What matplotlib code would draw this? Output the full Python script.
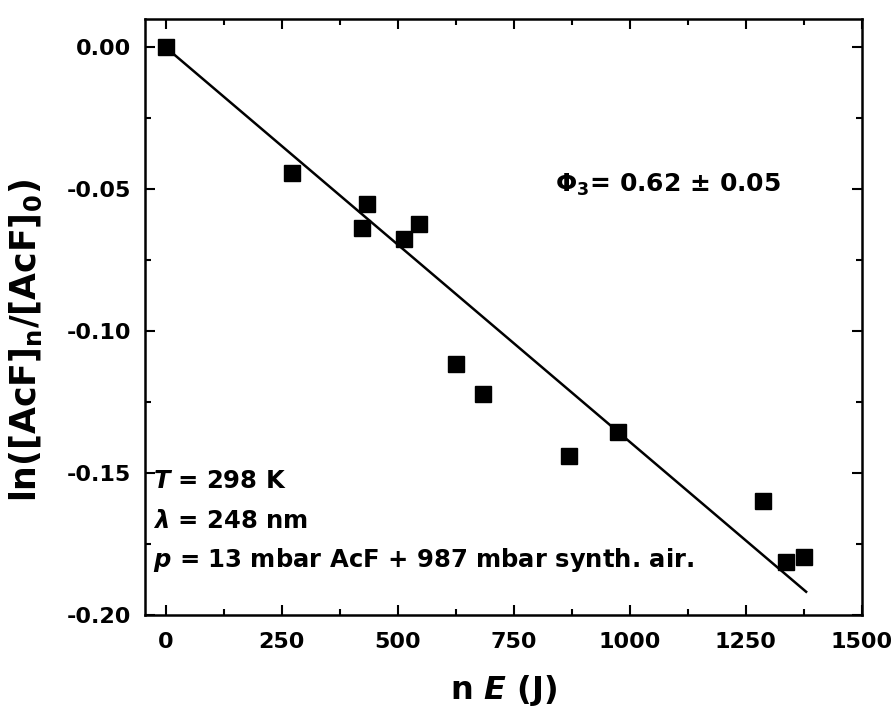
import matplotlib
matplotlib.use("Agg")
import matplotlib.pyplot as plt
from matplotlib.ticker import MultipleLocator, FormatStrFormatter

# Data
energy_J = [0, 272, 422, 433, 513, 545, 625, 683, 869, 974, 1287, 1336, 1375]
ln_ratio = [0.0, -0.0444, -0.0637, -0.0553, -0.0676, -0.0623, -0.1116, -0.1222,
            -0.1440, -0.1356, -0.1600, -0.1813, -0.1796]
fit_x = [0, 1380]
fit_y = [0.0, -0.1918]

plt.rcParams['font.family'] = ['DejaVu Sans']
plt.rcParams['font.weight'] = 'bold'
plt.rcParams['mathtext.fontset'] = 'custom'
plt.rcParams['mathtext.rm'] = 'DejaVu Sans:bold'
plt.rcParams['mathtext.bf'] = 'DejaVu Sans:bold'
plt.rcParams['mathtext.it'] = 'DejaVu Sans:italic:bold'
plt.rcParams['mathtext.sf'] = 'DejaVu Sans:bold'

fig = plt.figure(figsize=(8.94, 7.13), dpi=100)
ax = fig.add_axes([0.162, 0.1374, 0.802, 0.8356])

ax.plot(fit_x, fit_y, color='black', lw=1.8, zorder=2)
ax.plot(energy_J, ln_ratio, 's', color='black', markersize=11, zorder=3)

ax.set_xlim(-45, 1500)
ax.set_ylim(-0.2, 0.0099)
ax.xaxis.set_major_locator(MultipleLocator(250))
ax.xaxis.set_minor_locator(MultipleLocator(125))
ax.yaxis.set_major_locator(MultipleLocator(0.05))
ax.yaxis.set_minor_locator(MultipleLocator(0.025))
ax.yaxis.set_major_formatter(FormatStrFormatter('%.2f'))

ax.tick_params(which='both', direction='in', top=True, right=True, width=1.5)
ax.tick_params(which='major', length=7, labelsize=16)
ax.tick_params(axis='y', which='major', pad=10)
ax.tick_params(axis='x', which='major', pad=12)
ax.tick_params(which='minor', length=4)
for lab in ax.get_xticklabels() + ax.get_yticklabels():
    lab.set_fontweight('bold')
for s in ax.spines.values():
    s.set_linewidth(1.8)

ax.set_xlabel(r'n $\mathit{E}$ (J)', fontsize=23, fontweight='bold', labelpad=15)
ax.set_ylabel(r'ln([AcF]$_\mathrm{n}$/[AcF]$_\mathrm{0}$)', fontsize=25,
              fontweight='bold')
ax.yaxis.set_label_coords(-0.14, 0.46)

ax.text(0.572, 0.71, r'$\mathit{\Phi}_3$= 0.62 $\pm$ 0.05', transform=ax.transAxes,
        fontsize=18, fontweight='bold', va='baseline', ha='left')
ax.text(0.011, 0.213, r'$\mathit{T}$ = 298 K', transform=ax.transAxes,
        fontsize=17.5, fontweight='bold', va='baseline', ha='left')
ax.text(0.011, 0.146, r'$\lambda$ = 248 nm', transform=ax.transAxes,
        fontsize=17.5, fontweight='bold', va='baseline', ha='left')
ax.text(0.011, 0.0805, r'$\mathit{p}$ = 13 mbar AcF + 987 mbar synth. air.',
        transform=ax.transAxes, fontsize=17.5, fontweight='bold', va='baseline', ha='left')

fig.savefig('out.png', dpi=100)
